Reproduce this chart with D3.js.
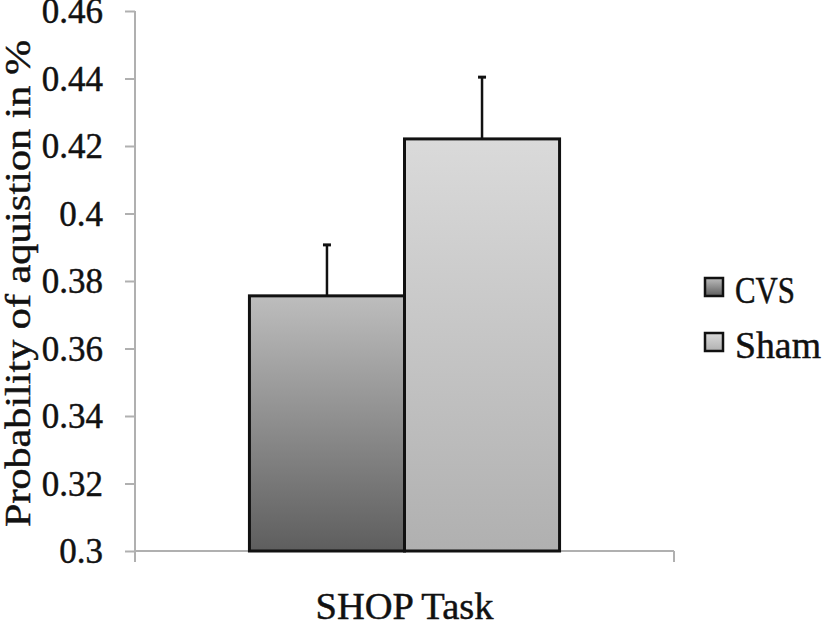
<!DOCTYPE html>
<html><head><meta charset="utf-8">
<script src="https://cdn.jsdelivr.net/npm/d3@7"></script>
<style>body{margin:0;background:#fff}svg{display:block}text{font-family:"Liberation Serif",serif;fill:#111;stroke:#111;stroke-width:0.45px}</style>
</head><body>
<svg id="c" width="827" height="623"></svg>
<script>
const categories = ["SHOP Task"];
const seriesNames = ["CVS", "Sham"];
const means = [0.3756, 0.4221];
const errors = [0.0151, 0.0183];
const yTicks = [0.3, 0.32, 0.34, 0.36, 0.38, 0.4, 0.42, 0.44, 0.46];
const yTickLabels = ["0.3","0.32","0.34","0.36","0.38","0.4","0.42","0.44","0.46"];
const yLabel = "Probability of aquistion in %";

(function(){
const svg = d3.select("#c");
const defs = svg.append("defs");
const grads = [["#bdbdbd","#5e5e5e"],["#dadada","#b0b0b0"]];
grads.forEach((g,i)=>{
  const lg = defs.append("linearGradient").attr("id","g"+i).attr("x1",0).attr("y1",0).attr("x2",0).attr("y2",1);
  lg.append("stop").attr("offset","0%").attr("stop-color",g[0]);
  lg.append("stop").attr("offset","100%").attr("stop-color",g[1]);
});

const mL = 135, mR = 674, mT = 11, mB = 551;
const y = d3.scaleLinear().domain([0.3, 0.46]).range([mB, mT]);
const x0 = d3.scaleBand().domain(categories).range([mL, mR]).paddingInner(0).paddingOuter(0.369);
const x1 = d3.scaleBand().domain(seriesNames).range([0, x0.bandwidth()]);

const axisCol = "#b0b0b0";
const yAxis = d3.axisLeft(y).tickValues(yTicks).tickFormat((d,i)=>yTickLabels[i]).tickSize(10).tickPadding(22);
const ga = svg.append("g").attr("transform",`translate(${mL},0)`).call(yAxis);
ga.select(".domain").remove();
ga.selectAll(".tick line").attr("stroke",axisCol).attr("stroke-width",2);
ga.selectAll(".tick text").attr("font-size",35).attr("fill","#111").attr("dy","0.34em");
svg.append("line").attr("x1",mL).attr("x2",mL).attr("y1",mT).attr("y2",mB+11).attr("stroke",axisCol).attr("stroke-width",2);
svg.append("line").attr("x1",mL).attr("x2",mR).attr("y1",mB).attr("y2",mB).attr("stroke",axisCol).attr("stroke-width",2);
svg.append("line").attr("x1",mR).attr("x2",mR).attr("y1",mB).attr("y2",mB+11).attr("stroke",axisCol).attr("stroke-width",2);

const g = svg.append("g").attr("transform",`translate(${x0(categories[0])},0)`);
seriesNames.forEach((s,i)=>{
  g.append("rect").attr("x",x1(s)).attr("width",x1.bandwidth()).attr("y",y(means[i])).attr("height",y(0.3)-y(means[i]))
   .attr("fill",`url(#g${i})`).attr("stroke","#111").attr("stroke-width",3);
  const cx = x1(s)+x1.bandwidth()/2;
  g.append("line").attr("x1",cx).attr("x2",cx).attr("y1",y(means[i])).attr("y2",y(means[i]+errors[i])).attr("stroke","#111").attr("stroke-width",2.5);
  g.append("line").attr("x1",cx-4).attr("x2",cx+4).attr("y1",y(means[i]+errors[i])).attr("y2",y(means[i]+errors[i])).attr("stroke","#111").attr("stroke-width",3);
});

svg.append("text").attr("x",x0(categories[0])+x0.bandwidth()/2).attr("y",619).attr("text-anchor","middle").attr("font-size",37)
  .attr("textLength",178).attr("lengthAdjust","spacingAndGlyphs").text(categories[0]);
svg.append("text").attr("transform",`translate(30,${(40+527)/2}) rotate(-90)`).attr("text-anchor","middle").attr("font-size",35)
  .attr("textLength",487).attr("lengthAdjust","spacingAndGlyphs").text(yLabel);

const legendLen = [60, 86];
seriesNames.forEach((s,i)=>{
  const ly = 278 + i*55;
  svg.append("rect").attr("x",705).attr("y",ly).attr("width",18).attr("height",18).attr("fill",`url(#g${i})`).attr("stroke","#111").attr("stroke-width",2.5);
  svg.append("text").attr("x",735).attr("y",ly+25).attr("font-size",37)
    .attr("textLength",legendLen[i]).attr("lengthAdjust","spacingAndGlyphs").text(s);
});
})();
</script>
</body></html>
